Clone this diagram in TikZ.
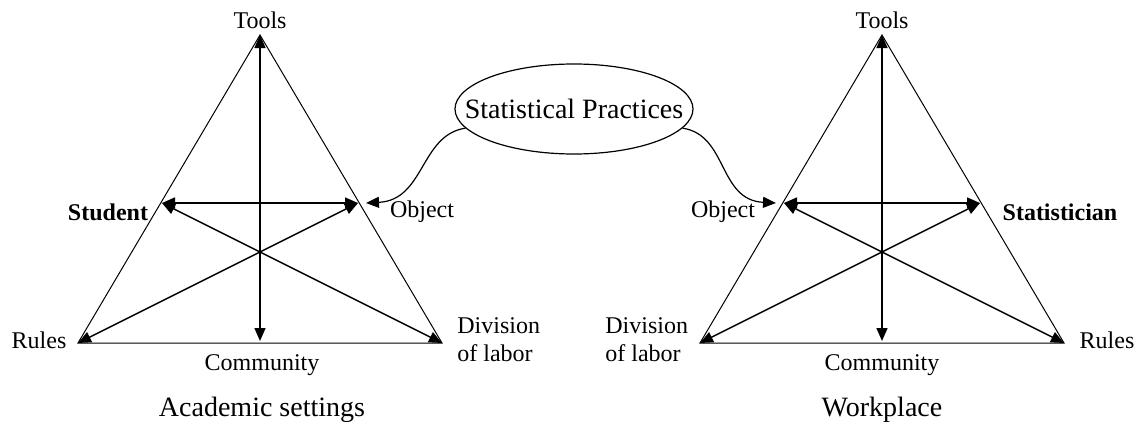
\documentclass[tikz,border=0pt]{standalone}
\usepackage{fontspec}
\setmainfont{Liberation Serif}
\usetikzlibrary{arrows.meta,shapes.geometric}
\tikzset{
  side/.style={draw=black, line width=0.5pt},
  link/.style={{Triangle[length=6.5pt,width=5.5pt]}-{Triangle[length=6.5pt,width=5.5pt]},
               line width=0.75pt},
  bendarrow/.style={-{Triangle[length=6.5pt,width=5.5pt]}, line width=0.6pt},
  lbl/.style={font=\fontsize{12}{14}\selectfont, inner sep=1pt},
  role/.style={font=\fontsize{12}{14}\selectfont\bfseries, inner sep=1pt},
  settitle/.style={font=\fontsize{14}{17}\selectfont, inner sep=1pt},
  practice/.style={ellipse, draw, line width=0.6pt, inner xsep=-13pt, inner ysep=0pt,
                   minimum width=119pt, minimum height=45pt,
                   font=\fontsize{14}{17}\selectfont},
}

\begin{document}
\begin{tikzpicture}[x=0.5pt, y=-0.5pt]
\useasboundingbox (0,0) rectangle (1137,428);

% one activity system: #1 = name prefix, #2 = x of the apex
\newcommand{\actsys}[2]{%
  \coordinate (#1T)  at (#2,35);
  \coordinate (#1L)  at (#2-182,343);
  \coordinate (#1R)  at (#2+182,343);
  \coordinate (#1B)  at (#2,341);
  \coordinate (#1ML) at (#2-98,203);
  \coordinate (#1MR) at (#2+98,203);
  \draw[side] (#1T) -- (#1L) -- (#1R) -- cycle;
  \draw[link] (#1T) -- (#1B);
  \draw[link] (#1ML) -- (#1MR);
  \draw[link] (#1L) -- (#1MR);
  \draw[link] (#1R) -- (#1ML);
}

% ============================================ academic settings
\actsys{a}{260}
\node[lbl]  (aTools) at (260,20)  {Tools};
\node[role] (aSubj)  at (108,212) {Student};
\node[lbl]  (aObj)   at (422,212) {Object};
\node[lbl]  (aRules) at (39,340)  {Rules};
\node[lbl, anchor=west, align=left] (aDiv) at (455,340) {Division\\of labor};
\node[lbl]  (aComm)  at (262,365) {Community};
\node[settitle] (aTitle) at (262,410) {Academic settings};

% ============================================ workplace
\actsys{b}{882}
\node[lbl]  (bTools) at (882,20)  {Tools};
\node[lbl]  (bObj)   at (723,212) {Object};
\node[role] (bSubj)  at (1060,212) {Statistician};
\node[lbl, anchor=west, align=left] (bDiv) at (603,340) {Division\\of labor};
\node[lbl]  (bRules) at (1107,340) {Rules};
\node[lbl]  (bComm)  at (882,365) {Community};
\node[settitle] (bTitle) at (882,410) {Workplace};

% ============================================ shared practices
\node[practice] (sp) at (574,109) {Statistical Practices};
\coordinate (aIn) at (366,203);
\coordinate (bIn) at (776,203);
\draw[bendarrow] (sp.190) .. controls (420,135) and (425,200) .. (aIn);
\draw[bendarrow] (sp.350) .. controls (728,135) and (718,200) .. (bIn);

\end{tikzpicture}
\end{document}
